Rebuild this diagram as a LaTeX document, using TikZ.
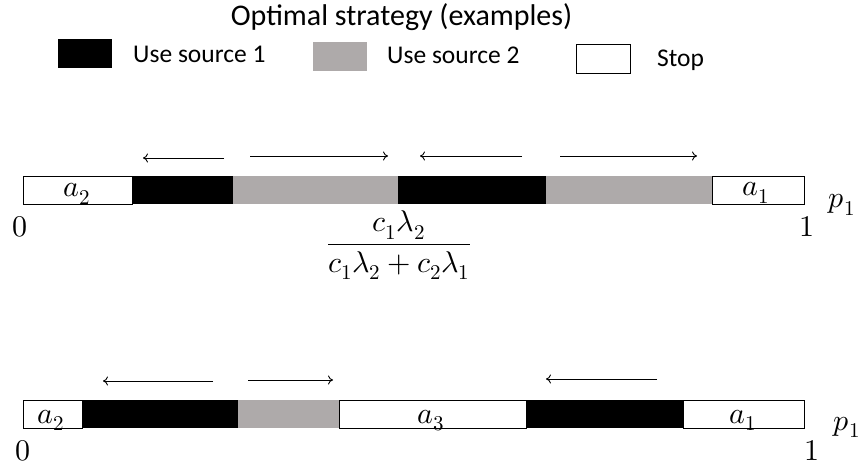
\documentclass[tikz,border=0pt]{standalone}
\usepackage{fontspec}
\usepackage{unicode-math}
\setmainfont{Carlito}
\usetikzlibrary{positioning, arrows.meta}
\definecolor{grayfill}{RGB}{174,170,170}
\tikzset{
  legbox/.style={minimum width=54pt, minimum height=29pt, inner sep=0pt},
  legendtext/.style={font=\fontsize{25.5}{30}\selectfont, inner sep=0pt, anchor=base west},
  seglabel/.style={font=\fontsize{30}{36}\selectfont, inner sep=0pt, anchor=base},
  stopseg/.style={fill=white, draw=black, line width=0.7pt},
  useone/.style={fill=black},
  usetwo/.style={fill=grayfill},
  flow/.style={-{To[length=5pt, width=9pt]}, line width=0.9pt}
}
\begin{document}
\begin{tikzpicture}[x=1pt, y=-1pt]
  \useasboundingbox (0,0) rectangle (865,465);
  % legend
  \node[font=\fontsize{30}{36}\selectfont, inner sep=0pt, anchor=base] (title) at (401.5,26) {Optimal strategy (examples)};
  \node[legbox, fill=black] (boxone) at (84.5,54) {};
  \node[legendtext] (txtone) at (133,63) {Use source 1};
  \node[legbox, fill=grayfill] (boxtwo) at (339.5,57) {};
  \node[legendtext] (txttwo) at (387,64) {Use source 2};
  \node[legbox, draw=black, line width=0.7pt] (boxstop) at (603.5,59) {};
  \node[legendtext] (txtstop) at (657,67) {Stop};

  % first example
  \foreach \xa/\xb/\seg in {23/132/stopseg, 132/233/useone, 233/398/usetwo,
                            398/546/useone, 546/712/usetwo, 712/804/stopseg}
    \path[\seg] (\xa,176) rectangle (\xb,204);
  \node[seglabel] (atwoA) at (77,197) {$a_2$};
  \node[seglabel] (aoneA) at (756,196) {$a_1$};
  \node[seglabel] (zeroA) at (20,237) {$0$};
  \node[seglabel] (oneA) at (807,237) {$1$};
  \node[seglabel] (pA) at (842,208) {$p_1$};
  \node[seglabel] (thresh) at (399,252) {$\dfrac{c_1\lambda_2}{c_1\lambda_2+c_2\lambda_1}$};
  \coordinate (r1s) at (224,158); \coordinate (r1e) at (143,158);
  \coordinate (r2s) at (250,156); \coordinate (r2e) at (388,156);
  \coordinate (r3s) at (522,156); \coordinate (r3e) at (420,156);
  \coordinate (r4s) at (560,156); \coordinate (r4e) at (697,156);
  \foreach \n in {1,...,4}
    \draw[flow] (r\n s) -- (r\n e);

  % second example
  \foreach \xa/\xb/\seg in {23/82/stopseg, 82/238/useone, 238/339/usetwo,
                            339/526/stopseg, 526/683/useone, 683/804/stopseg}
    \path[\seg] (\xa,400) rectangle (\xb,428);
  \node[seglabel] (atwoB) at (51,423) {$a_2$};
  \node[seglabel] (athreeB) at (431,423) {$a_3$};
  \node[seglabel] (aoneB) at (743,423) {$a_1$};
  \node[seglabel] (zeroB) at (23,460) {$0$};
  \node[seglabel] (oneB) at (812,460) {$1$};
  \node[seglabel] (pB) at (847,430) {$p_1$};
  \coordinate (s1s) at (213,381); \coordinate (s1e) at (103,381);
  \coordinate (s2s) at (248,380); \coordinate (s2e) at (333,380);
  \coordinate (s3s) at (657,379); \coordinate (s3e) at (546,379);
  \foreach \n in {1,...,3}
    \draw[flow] (s\n s) -- (s\n e);
\end{tikzpicture}
\end{document}
